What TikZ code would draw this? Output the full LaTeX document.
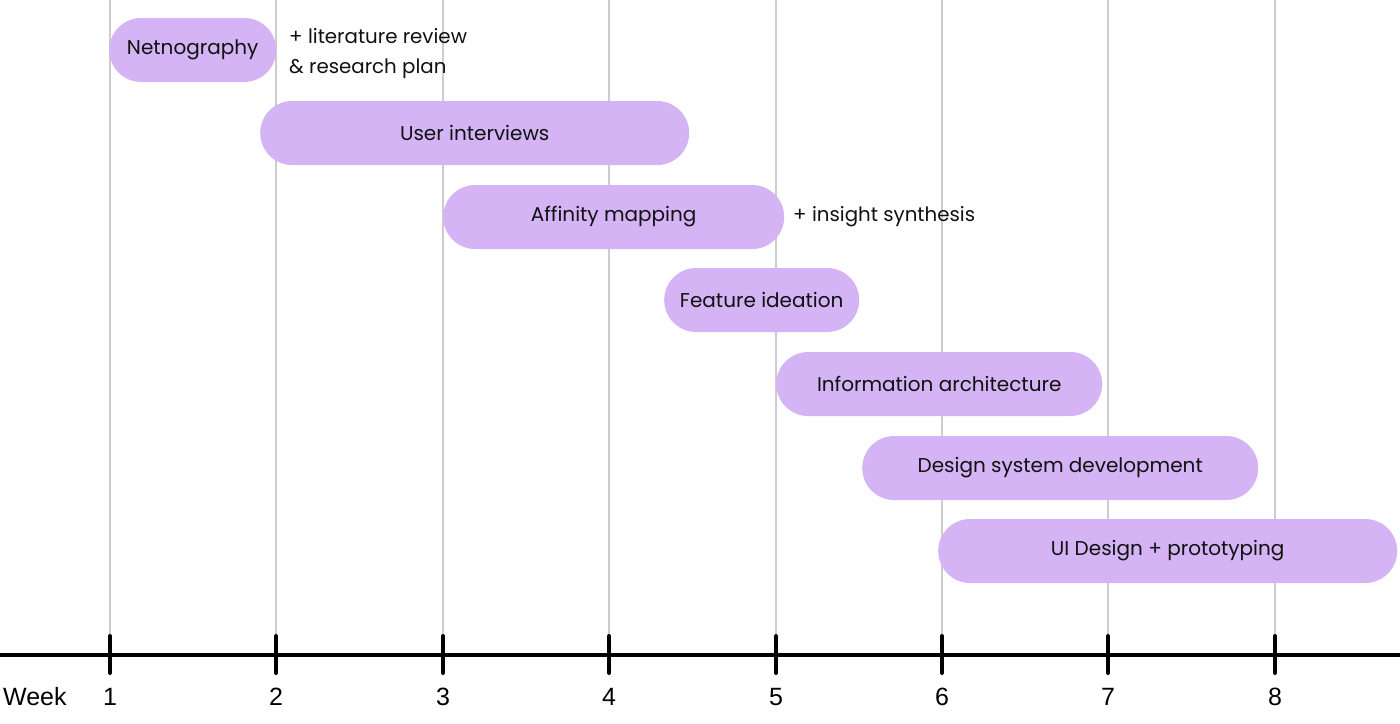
\documentclass[tikz,border=0pt]{standalone}
\usepackage{fontspec}
\setmainfont{Poppins}
\newfontfamily\axisfont{Liberation Sans}
\definecolor{barfill}{RGB}{212,180,244}
\definecolor{gridgray}{RGB}{204,204,204}
\definecolor{ink}{RGB}{17,17,17}
\begin{document}
\begin{tikzpicture}[x=1pt,y=-1pt,
  bar/.style={fill=barfill, draw=none, rounded corners=32pt, minimum height=64pt, inner sep=0pt, anchor=west, font=\fontsize{20}{22}\selectfont, text=ink},
  note/.style={anchor=west, align=left, font=\fontsize{19.8}{30}\selectfont, text=ink, inner sep=0pt},
  gridline/.style={draw=gridgray, line width=1.4pt},
  axisline/.style={draw=black, line width=4pt},
  tickline/.style={draw=black, line width=4pt, line cap=round},
  weeklabel/.style={font=\axisfont\fontsize{25}{27}\selectfont, text=black, inner sep=0pt}]
\useasboundingbox (0,0) rectangle (1400,723);
% grid lines
\foreach \i/\x in {1/110,2/276,3/443,4/609,5/776,6/942,7/1108,8/1275}{
  \coordinate (gt\i) at (\x,0);
  \coordinate (gb\i) at (\x,640);
  \draw[gridline] (gt\i) -- (gb\i);
}
% bars
\node[bar, minimum width=167pt] (b1) at (109,50) {Netnography};
\node[bar, minimum width=429pt] (b2) at (260,133) {User interviews};
\node[bar, minimum width=341pt] (b3) at (443,217) {Affinity mapping};
\node[bar, minimum width=195pt] (b4) at (664,300) {Feature ideation};
\node[bar, minimum width=326pt] (b5) at (776,384) {Information architecture};
\node[bar, minimum width=396pt] (b6) at (862,468) {Design system development};
\node[bar, minimum width=459pt] (b7) at (938,551) {UI Design + prototyping};
% notes
\node[note] (n1) at (289,54) {+ literature review\\\& research plan};
\node[note] (n3) at (793,217) {+ insight synthesis};
% axis
\coordinate (al) at (0,655);
\coordinate (ar) at (1400,655);
\draw[axisline] (al) -- (ar);
\foreach \i/\x in {1/110,2/276,3/443,4/609,5/776,6/942,7/1108,8/1275}{
  \coordinate (tt\i) at (\x,636);
  \coordinate (tb\i) at (\x,673);
  \draw[tickline] (tt\i) -- (tb\i);
  \node[weeklabel] (w\i) at (\x,697) {\i};
}
\node[weeklabel, anchor=west] (wk) at (3,697) {Week};
\end{tikzpicture}
\end{document}
